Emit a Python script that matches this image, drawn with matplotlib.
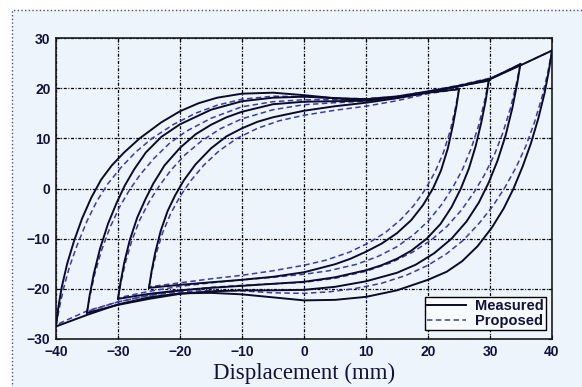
import matplotlib.pyplot as plt
from matplotlib.patches import Rectangle

# measured loops (solid): (displacement, force)
m40_up = [(-40, -27.5), (-39.6, -23.5), (-39.1, -19.8), (-38.2, -15), (-37.1, -10.5), (-35.8, -6),
          (-34.3, -1.8), (-32.7, 1.8), (-31, 4.6), (-29, 7.2), (-26.5, 10), (-23, 13.2),
          (-20, 15.4), (-17, 17), (-14, 18.1), (-10, 18.9), (-5, 19.1), (0, 18.6), (5, 18),
          (10, 17.6), (15, 18.1), (20, 19.2), (25, 20.4), (30, 21.8), (35, 24.6), (40, 27.5)]
m35_up = [(-35, -24.8), (-34.6, -21.5), (-33.9, -17), (-32.9, -12), (-31.6, -7), (-30.2, -2.8),
          (-28.9, 0.6), (-27.4, 3.8), (-25.5, 7.2), (-23, 10.3), (-20, 12.8), (-15, 15.7),
          (-10, 17.4), (-5, 18.1), (0, 18.3), (5, 18), (10, 17.8), (15, 18.3), (20, 19.3),
          (25, 20.4), (30, 21.8), (34.9, 24.8)]
m30_up = [(-30, -22), (-29.6, -18.8), (-29, -14.8), (-28.1, -10.3), (-26.9, -5.8), (-25.6, -2.2),
          (-24.3, 1), (-22.5, 4.6), (-20, 8.1), (-17.5, 10.8), (-15, 12.7), (-12.5, 14.2),
          (-10, 15.3), (-5, 16.8), (0, 17.3), (5, 17.4), (10, 17.5), (15, 18.2), (20, 19.2),
          (25, 20.4), (29.8, 21.5)]
m25_up = [(-25, -19.8), (-24.6, -16.6), (-24, -12.8), (-23.1, -8.4), (-22, -4.5), (-20.8, -1.4),
          (-19.4, 1.6), (-17.5, 4.8), (-15, 8), (-12.5, 10.4), (-10, 12), (-7.5, 13.3), (-5, 14.2),
          (0, 15.5), (5, 16.4), (10, 17.1), (15, 18), (20, 19.1), (25, 19.8)]

m40_dn = [(40, 27.5), (39.5, 23.5), (38.8, 19), (37.8, 14), (36.6, 9), (35.3, 4.5), (33.8, 0),
          (32.2, -4), (30.3, -7.8), (28, -11.5), (25.5, -14.5), (23, -16.6), (20, -18.2),
          (15, -20.3), (10, -21.6), (5, -22.2), (0, -22.3), (-5, -21.7), (-10, -21.1),
          (-15, -20.8), (-20, -20.9), (-25, -21.7), (-30, -23.1), (-35, -25.2), (-40, -27.5)]
m35_dn = [(34.9, 24.8), (34.4, 21), (33.6, 16), (32.5, 10.5), (31.2, 5.5), (29.8, 1.2),
          (28.2, -2.8), (26.2, -6.6), (23.8, -10), (21, -12.9), (18, -15.2), (15, -16.8),
          (10, -18.5), (5, -19.6), (0, -20.2), (-5, -20.3), (-10, -20.3), (-15, -20.5),
          (-20, -21), (-25, -22), (-30, -23.2), (-35, -24.8)]
m30_dn = [(29.8, 21.5), (29.3, 17.5), (28.6, 13.2), (27.7, 8.5), (26.6, 4), (25.3, 0),
          (23.8, -3.7), (22, -7.1), (19.8, -10), (17.3, -12.4), (15, -14), (12.5, -15.3),
          (10, -16.3), (5, -17.7), (0, -18.6), (-5, -19), (-10, -19.4), (-15, -19.8),
          (-20, -20.3), (-25, -21), (-30, -22)]
m25_dn = [(25, 19.8), (24.6, 16.5), (24, 12.5), (23.2, 8), (22.1, 3.6), (20.8, 0), (19.2, -3.3),
          (17.3, -6.3), (15, -8.9), (12.5, -11), (10, -12.6), (7.5, -14), (5, -15.1), (0, -16.7),
          (-5, -17.6), (-10, -18.2), (-15, -18.7), (-20, -19.2), (-25, -19.8)]

# proposed model (dashed)
p40_up = [(-40, -27.2), (-39.4, -23.5), (-38.8, -20), (-37.8, -15.5), (-36.5, -11), (-35, -6.5),
          (-33.4, -2.5), (-31.6, 1), (-29.5, 4.2), (-27.2, 7.2), (-24.5, 10), (-21, 12.8),
          (-17.5, 15), (-14, 16.6), (-10, 17.8), (-5, 18.4), (0, 18.3), (5, 18), (10, 17.9),
          (15, 18.4), (20, 19.4), (25, 20.6), (30, 22), (35, 24.6), (40, 27.5)]
p35_up = [(-35, -24.5), (-34.5, -21.3), (-33.8, -17.3), (-32.7, -12.5), (-31.3, -7.8),
          (-29.8, -3.8), (-28.2, -0.4), (-26.4, 2.8), (-24.2, 6), (-21.7, 9), (-19, 11.4),
          (-15, 14), (-10, 16.3), (-5, 17.3), (0, 17.7), (5, 17.7), (10, 17.8), (15, 18.4),
          (20, 19.4), (25, 20.5), (30, 21.9), (34.9, 24.8)]
p30_up = [(-30, -21.8), (-29.5, -18.6), (-28.8, -14.8), (-27.8, -10.5), (-26.5, -6.3),
          (-25, -2.7), (-23.4, 0.4), (-21.5, 3.6), (-19.2, 6.7), (-16.5, 9.5), (-13.5, 11.9),
          (-10, 13.9), (-5, 15.7), (0, 16.7), (5, 17.1), (10, 17.4), (15, 18.1), (20, 19.2),
          (25, 20.4), (29.8, 21.5)]
p25_up = [(-25, -19.6), (-24.5, -16.4), (-23.8, -12.8), (-22.8, -8.8), (-21.5, -5), (-20, -1.6),
          (-18.3, 1.5), (-16.2, 4.6), (-13.7, 7.5), (-10.8, 10), (-7.5, 12), (-4, 13.5),
          (0, 14.6), (5, 15.6), (10, 16.4), (15, 17.5), (20, 18.9), (25, 19.8)]

p40_dn = [(40, 27.5), (39.3, 23), (38.4, 18.3), (37.2, 13.3), (35.8, 8.5), (34.2, 4.2),
          (32.4, 0.2), (30.4, -3.6), (28.2, -7), (25.7, -10.3), (23, -13), (20, -15.3),
          (16.5, -17.3), (12.5, -18.9), (8, -20), (4, -20.6), (0, -20.9), (-5, -20.8),
          (-10, -20.4), (-15, -20.3), (-20, -20.6), (-25, -21.3), (-30, -22.6), (-35, -24.4),
          (-40, -27.2)]
p35_dn = [(34.9, 24.8), (34.2, 20.6), (33.3, 16), (32.1, 11.2), (30.7, 6.7), (29.1, 2.7),
          (27.4, -0.8), (25.4, -4.3), (23.1, -7.5), (20.5, -10.3), (17.5, -12.7), (14, -14.8),
          (10, -16.5), (5, -17.9), (0, -18.7), (-5, -19), (-10, -19.3), (-15, -19.7), (-20, -20.3),
          (-25, -21.3), (-30, -22.6), (-35, -24.5)]
p30_dn = [(29.8, 21.5), (29.1, 17.3), (28.2, 12.7), (27, 8.1), (25.6, 3.9), (24, 0.2),
          (22.2, -3.2), (20.1, -6.4), (17.7, -9.2), (15, -11.6), (12, -13.5), (8.5, -15.1),
          (4, -16.4), (0, -17.1), (-5, -17.7), (-10, -18.2), (-15, -18.8), (-20, -19.5),
          (-25, -20.5), (-30, -21.8)]
p25_dn = [(25, 19.8), (24.4, 15.9), (23.6, 11.6), (22.5, 7.2), (21.1, 3.2), (19.5, -0.3),
          (17.7, -3.4), (15.6, -6.2), (13.2, -8.7), (10.5, -10.8), (7.3, -12.7), (3.5, -14.3),
          (0, -15.3), (-5, -16.4), (-10, -17.3), (-15, -18), (-20, -18.8), (-25, -19.6)]

measured = [m40_up, m35_up, m30_up, m25_up, m40_dn, m35_dn, m30_dn, m25_dn]
proposed = [p40_up, p35_up, p30_up, p25_up, p40_dn, p35_dn, p30_dn, p25_dn]

x_ticks = [-40, -30, -20, -10, 0, 10, 20, 30, 40]
y_ticks = [-30, -20, -10, 0, 10, 20, 30]

BG = "#eef4fc"
SOLID = "#0b0b2a"
DASH = "#3a3aa8"
TXT = "#12123a"

fig = plt.figure(figsize=(5.82, 3.87), dpi=100, facecolor="white")
fig.patches.append(Rectangle((12 / 582, -0.01), 1.0, 1 - 10 / 387 + 0.01,
                             transform=fig.transFigure, facecolor=BG, edgecolor="#4a4a8a",
                             linestyle=":", linewidth=1.0, zorder=-10))

ax = fig.add_axes([56 / 582, 1 - 339 / 387, 496 / 582, 301 / 387])
ax.set_facecolor(BG)

for i, c in enumerate(proposed):
    xs, ys = zip(*c)
    ax.plot(xs, ys, color=DASH, lw=1.1, dashes=(3.6, 2.2), zorder=3,
            label="Proposed" if i == 0 else None)
for i, c in enumerate(measured):
    xs, ys = zip(*c)
    ax.plot(xs, ys, color=SOLID, lw=1.4, zorder=4,
            label="Measured" if i == 0 else None)

ax.set_xlim(-40, 40)
ax.set_ylim(-30, 30)
ax.set_xticks(x_ticks)
ax.set_yticks(y_ticks)
ax.grid(True, color="black", lw=0.9, linestyle=(0, (2.4, 1.3, 0.8, 1.3)))
ax.tick_params(direction="in", length=3, width=0.8, top=True, right=True,
               labelsize=10, labelcolor=TXT, pad=4)
for lab in ax.get_xticklabels() + ax.get_yticklabels():
    lab.set_fontweight("bold")
    lab.set_family("Liberation Sans")
for s in ax.spines.values():
    s.set_linewidth(1.2)
    s.set_color("#1a1a1a")

ax.set_xlabel("Displacement (mm)", family="Liberation Serif", fontsize=16.5, color=TXT,
              labelpad=3)

h, l = ax.get_legend_handles_labels()
leg = ax.legend([h[1], h[0]], [l[1], l[0]], loc="lower right", bbox_to_anchor=(0.988, 0.03),
                borderaxespad=0, fancybox=False, framealpha=1, facecolor="#f8fbff",
                edgecolor="black", handlelength=2.7, borderpad=0.15, labelspacing=0.05,
                handletextpad=0.6, prop={"family": "Liberation Sans", "weight": "bold", "size": 10.5})
leg.get_frame().set_linewidth(1.0)
for t in leg.get_texts():
    t.set_color(TXT)

fig.savefig("out.png", dpi=100, facecolor="white")
